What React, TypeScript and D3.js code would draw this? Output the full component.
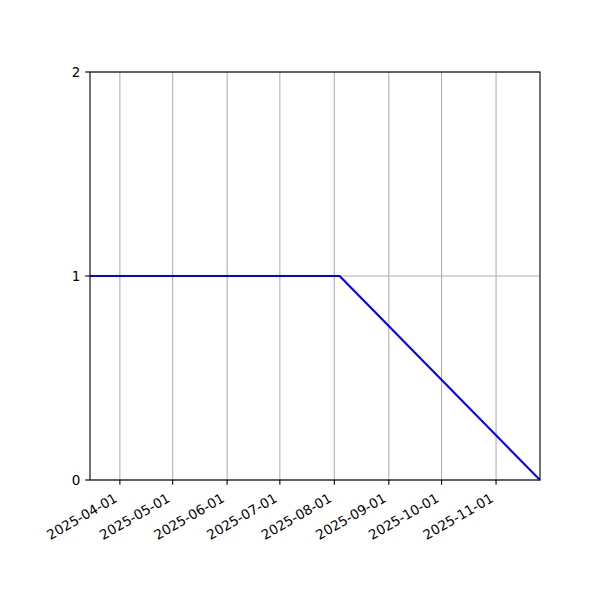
import React from "react";
import * as d3 from "d3";

const dates = ["2025-03-15", "2025-08-04", "2025-11-26"];
const values = [1, 1, 0];
const yTicks = [0, 1, 2];
const xTickLabels = [
  "2025-04-01",
  "2025-05-01",
  "2025-06-01",
  "2025-07-01",
  "2025-08-01",
  "2025-09-01",
  "2025-10-01",
  "2025-11-01",
];

const W = 600;
const H = 600;
const left = 90;
const right = 540;
const top = 72;
const bottom = 480;
const fontSize = 13.5;
const font = "DejaVu Sans, sans-serif";

export default function App() {
  const parse = d3.utcParse("%Y-%m-%d");
  const data = dates.map((d, i) => ({ x: parse(d) as Date, y: values[i] }));
  const x = d3
    .scaleUtc()
    .domain(d3.extent(data, (d) => d.x) as [Date, Date])
    .range([left, right]);
  const y = d3.scaleLinear().domain([0, 2]).range([bottom, top]);
  const line = d3
    .line<{ x: Date; y: number }>()
    .x((d) => x(d.x))
    .y((d) => y(d.y));
  const xt = xTickLabels.map((s) => ({ s, v: x(parse(s) as Date) }));
  const tick = 4.86;
  const pad = 4.86;

  return (
    <svg width={W} height={H} style={{ position: "absolute", left: 0, top: 0 }}>
      <rect x={0} y={0} width={W} height={H} fill="white" />
      {xt.map((t) => (
        <line key={"gx" + t.s} x1={t.v} x2={t.v} y1={top} y2={bottom} stroke="#b0b0b0" strokeWidth={1.1} />
      ))}
      {yTicks.map((v) => (
        <line key={"gy" + v} x1={left} x2={right} y1={y(v)} y2={y(v)} stroke="#b0b0b0" strokeWidth={1.1} />
      ))}
      <path d={line(data) || ""} fill="none" stroke="blue" strokeWidth={2.1} strokeLinejoin="round" />
      <rect x={left} y={top} width={right - left} height={bottom - top} fill="none" stroke="black" strokeWidth={1.1} />
      {xt.map((t) => (
        <g key={"tx" + t.s}>
          <line x1={t.v} x2={t.v} y1={bottom} y2={bottom + tick} stroke="black" strokeWidth={1.1} />
          <text
            transform={`translate(${t.v - 1.6},${bottom + tick + pad + 11.2}) rotate(-30)`}
            textAnchor="end"
            fontFamily={font}
            fontSize={fontSize}
            fill="black"
          >
            {t.s}
          </text>
        </g>
      ))}
      {yTicks.map((v) => (
        <g key={"ty" + v}>
          <line x1={left - tick} x2={left} y1={y(v)} y2={y(v)} stroke="black" strokeWidth={1.1} />
          <text
            x={left - tick - pad}
            y={y(v)}
            dy="0.36em"
            textAnchor="end"
            fontFamily={font}
            fontSize={fontSize}
            fill="black"
          >
            {v}
          </text>
        </g>
      ))}
    </svg>
  );
}
